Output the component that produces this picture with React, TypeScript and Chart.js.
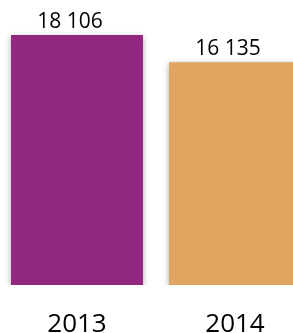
import React, { useEffect, useRef } from "react";
import { Chart, registerables } from "chart.js";

Chart.register(...registerables);

const categories = ["2013", "2014"];
const values = [18106, 16135];
const valueLabels = ["18 106", "16 135"];
const barColors = ["#92277F", "#E2A561"];
const yMax = 20641;

const FONT = "'Open Sans', 'Liberation Sans', sans-serif";

const labelPlugin = {
  id: "labelPlugin",
  beforeDatasetsDraw(chart: any) {
    const ctx = chart.ctx;
    ctx.save();
    ctx.shadowColor = "rgba(0,0,0,0.35)";
    ctx.shadowBlur = 6;
    ctx.shadowOffsetX = 0;
    ctx.shadowOffsetY = 2;
  },
  afterDatasetsDraw(chart: any) {
    const ctx = chart.ctx;
    ctx.restore();
    const meta = chart.getDatasetMeta(0);
    ctx.save();
    ctx.fillStyle = "#000";
    ctx.textAlign = "center";
    ctx.textBaseline = "alphabetic";
    meta.data.forEach((bar: any, i: number) => {
      ctx.font = `21px ${FONT}`;
      ctx.fillText(valueLabels[i], bar.x - 7, bar.y - 7);
      ctx.font = `26px ${FONT}`;
      ctx.fillText(categories[i], bar.x, chart.height - 1);
    });
    ctx.restore();
  },
};

export default function App() {
  const ref = useRef<HTMLCanvasElement | null>(null);
  useEffect(() => {
    document.documentElement.style.overflow = "hidden";
    document.body.style.overflow = "hidden";
    const chart = new Chart(ref.current as HTMLCanvasElement, {
      type: "bar",
      data: {
        labels: categories,
        datasets: [
          {
            data: values,
            backgroundColor: barColors,
            borderWidth: 0,
            barPercentage: 0.835,
            categoryPercentage: 1,
          },
        ],
      },
      options: {
        animation: false,
        responsive: false,
        maintainAspectRatio: false,
        layout: { padding: { top: 0, bottom: 48, left: 0, right: 0 } },
        plugins: { legend: { display: false }, tooltip: { enabled: false } },
        scales: {
          x: { display: false },
          y: { display: false, min: 0, max: yMax },
        },
      },
      plugins: [labelPlugin],
    });
    return () => chart.destroy();
  }, []);
  return (
    <div style={{ position: "absolute", left: -2, top: 0, width: 316, height: 333, background: "#fff" }}>
      <canvas ref={ref} width={316} height={333} style={{ display: "block" }} />
    </div>
  );
}
